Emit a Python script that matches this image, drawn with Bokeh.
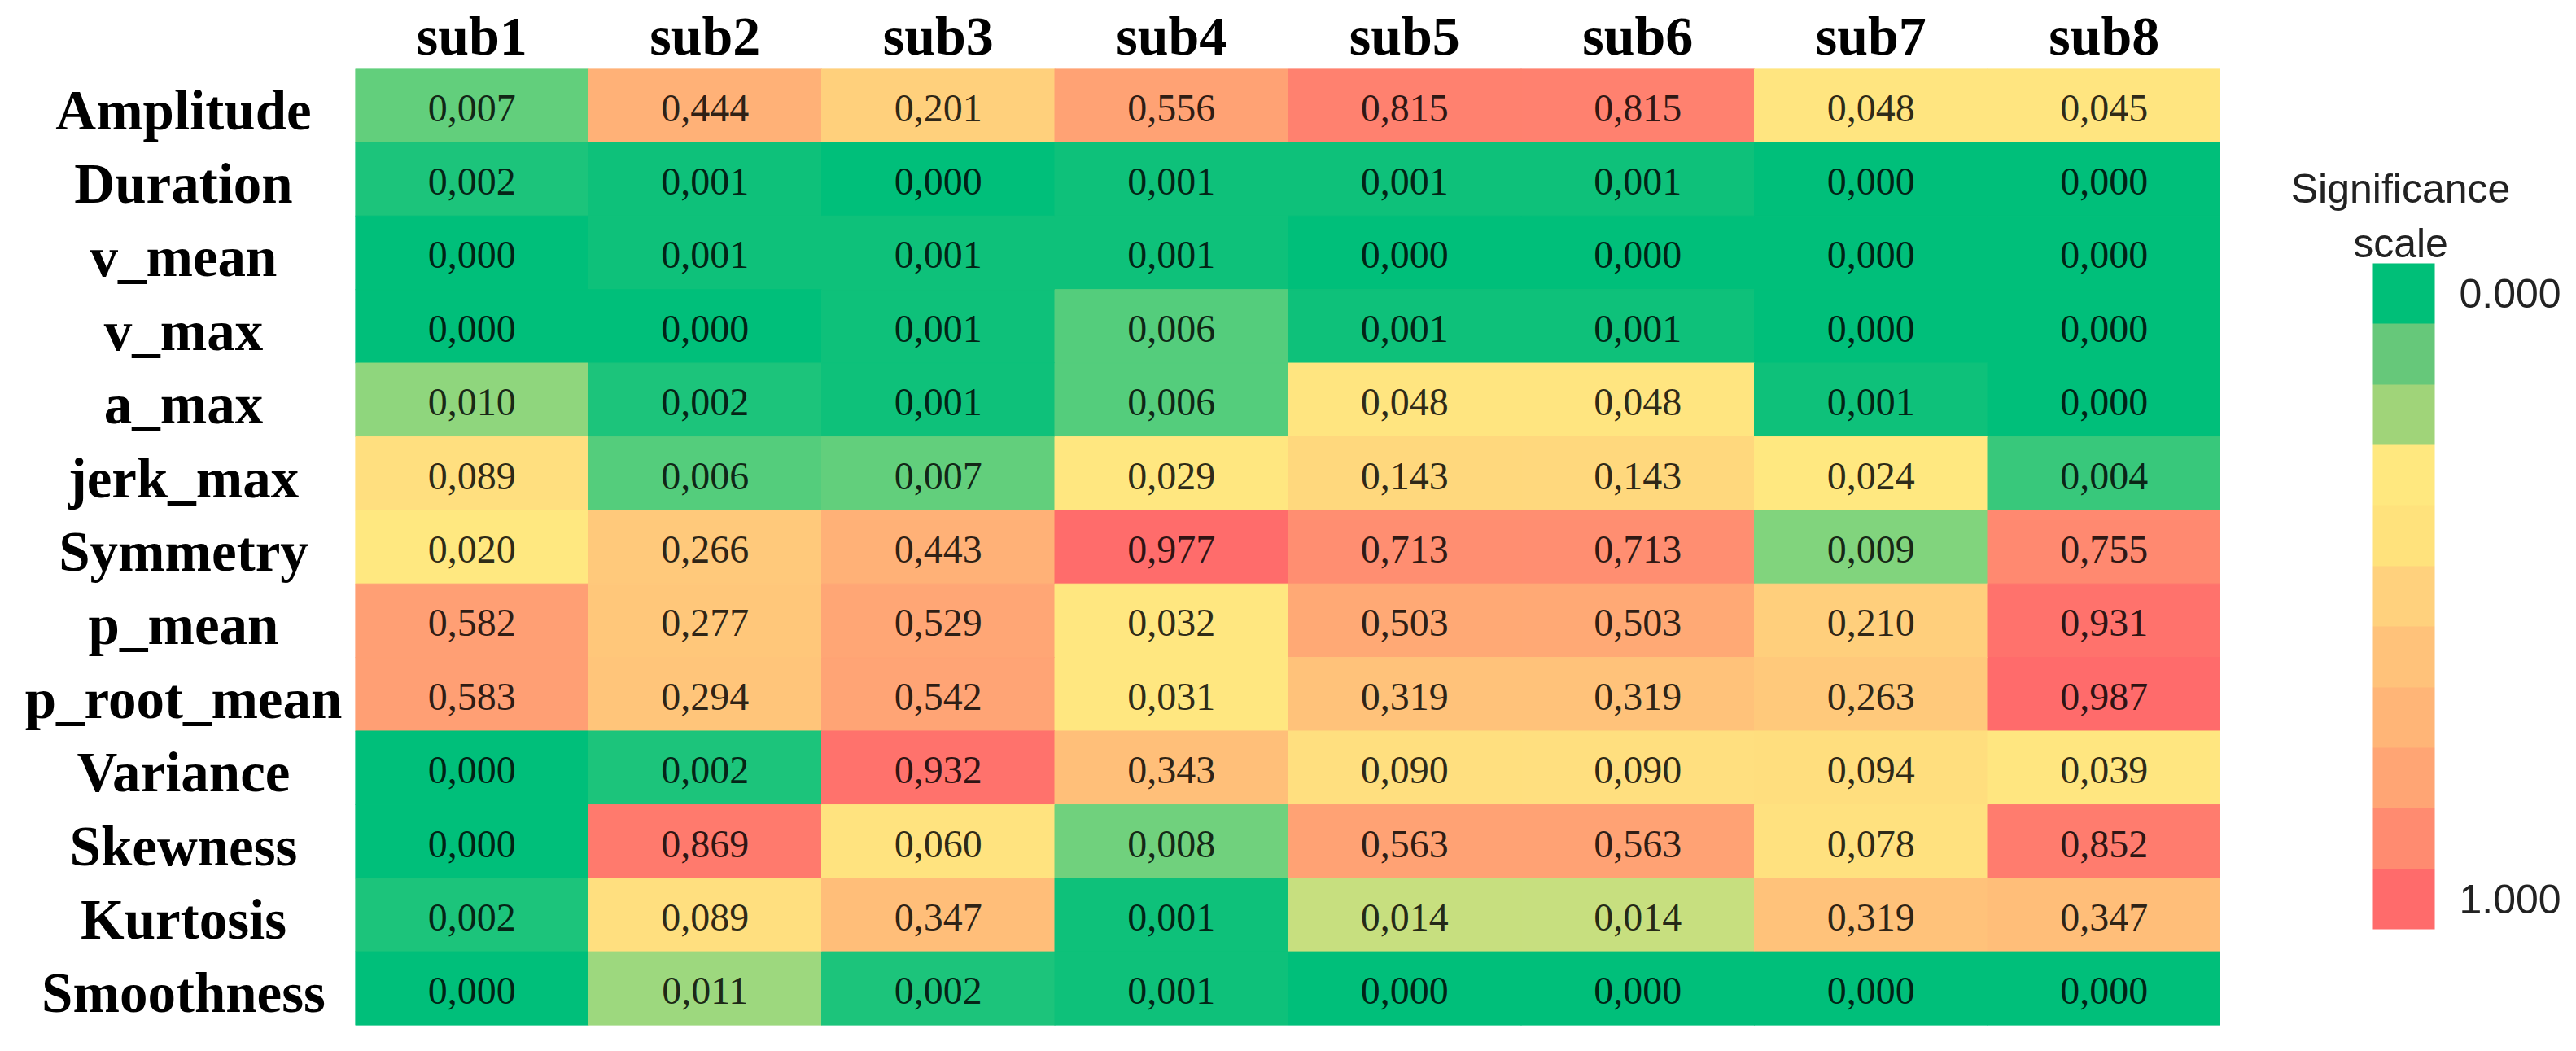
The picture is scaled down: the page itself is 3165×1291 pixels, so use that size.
import numpy as np
from bokeh.plotting import figure
from bokeh.models import (ColumnDataSource, FactorRange, Range1d, LinearColorMapper,
                          ColorBar, FixedTicker, AllLabels)
from bokeh.transform import transform
from bokeh.layouts import row
from bokeh.core.properties import value
from bokeh.embed import file_html
from bokeh.resources import INLINE

# ---------------- data ----------------
subjects = ["sub1", "sub2", "sub3", "sub4", "sub5", "sub6", "sub7", "sub8"]
features = ["Amplitude", "Duration", "v_mean", "v_max", "a_max", "jerk_max", "Symmetry",
            "p_mean", "p_root_mean", "Variance", "Skewness", "Kurtosis", "Smoothness"]

amplitude   = [0.007, 0.444, 0.201, 0.556, 0.815, 0.815, 0.048, 0.045]
duration    = [0.002, 0.001, 0.000, 0.001, 0.001, 0.001, 0.000, 0.000]
v_mean      = [0.000, 0.001, 0.001, 0.001, 0.000, 0.000, 0.000, 0.000]
v_max       = [0.000, 0.000, 0.001, 0.006, 0.001, 0.001, 0.000, 0.000]
a_max       = [0.010, 0.002, 0.001, 0.006, 0.048, 0.048, 0.001, 0.000]
jerk_max    = [0.089, 0.006, 0.007, 0.029, 0.143, 0.143, 0.024, 0.004]
symmetry    = [0.020, 0.266, 0.443, 0.977, 0.713, 0.713, 0.009, 0.755]
p_mean      = [0.582, 0.277, 0.529, 0.032, 0.503, 0.503, 0.210, 0.931]
p_root_mean = [0.583, 0.294, 0.542, 0.031, 0.319, 0.319, 0.263, 0.987]
variance    = [0.000, 0.002, 0.932, 0.343, 0.090, 0.090, 0.094, 0.039]
skewness    = [0.000, 0.869, 0.060, 0.008, 0.563, 0.563, 0.078, 0.852]
kurtosis    = [0.002, 0.089, 0.347, 0.001, 0.014, 0.014, 0.319, 0.347]
smoothness  = [0.000, 0.011, 0.002, 0.001, 0.000, 0.000, 0.000, 0.000]

feature_values = [amplitude, duration, v_mean, v_max, a_max, jerk_max, symmetry,
                  p_mean, p_root_mean, variance, skewness, kurtosis, smoothness]

# colour bar steps (top = 0.000 -> bottom = 1.000)
cbar_colors = ["#00BF78", "#66C87A", "#A0D479", "#FFE87F", "#FFE27C", "#FFD17D",
               "#FFC27A", "#FFB577", "#FFA574", "#FF8B70", "#FF6B6B"]
cbar_labels = ["0.000", "1.000"]

# ---------------- colour scale (3-colour scale: green - yellow - red) ----------------
c_low, c_mid, c_high = (0, 191, 122), (255, 232, 128), (255, 107, 107)
midpoint = 0.018


def interp(a, b, t):
    return "#%02x%02x%02x" % tuple(int(round(a[i] + (b[i] - a[i]) * t)) for i in range(3))


palette = [interp(c_low, c_mid, i / 127) for i in range(128)] + \
          [interp(c_mid, c_high, i / 127) for i in range(128)]

xs, ys, vals = [], [], []
for f, rowvals in zip(features, feature_values):
    for s, v in zip(subjects, rowvals):
        xs.append(s)
        ys.append(f)
        vals.append(v)
vals = np.array(vals)
vmax = vals.max()
score = np.where(vals <= midpoint, 0.5 * vals / midpoint,
                 0.5 + 0.5 * (vals - midpoint) / (vmax - midpoint))
labels = [("%.3f" % v).replace(".", ",") for v in vals]

src = ColumnDataSource(dict(x=xs, y=ys, v=vals, score=score, label=labels))
mapper = LinearColorMapper(palette=palette, low=0.0, high=1.0)

H = 1275
TOP, BOTTOM = 84, 16
FRAME_H = H - TOP - BOTTOM
LABEL_W = 436
MAIN_W = 2292
CB_W = 3149 - LABEL_W - MAIN_W

yr = FactorRange(factors=list(reversed(features)))

# ---------------- row-label figure ----------------
lab = figure(frame_width=LABEL_W, frame_height=FRAME_H, x_range=Range1d(0, LABEL_W), y_range=yr,
             output_backend="svg", toolbar_location=None,
             min_border_left=0, min_border_right=0, min_border_top=TOP, min_border_bottom=BOTTOM,
             x_axis_location=None, y_axis_location=None)
lab.grid.visible = False
lab.outline_line_color = None
lab_src = ColumnDataSource(dict(y=features, x=[225] * len(features)))
lab.text(x="x", y="y", text="y", source=lab_src, text_align="center", text_baseline="middle",
         text_font=value("Liberation Serif"), text_font_style="bold", text_font_size="69px",
         text_color="black", y_offset=6)

# ---------------- main heatmap ----------------
p = figure(frame_width=MAIN_W, frame_height=FRAME_H, x_range=FactorRange(factors=subjects), y_range=yr,
           output_backend="svg", toolbar_location=None, x_axis_location="above",
           y_axis_location=None,
           min_border_left=0, min_border_right=0, min_border_top=TOP, min_border_bottom=BOTTOM)
p.rect(x="x", y="y", width=1, height=1, source=src,
       fill_color=transform("score", mapper), line_color=transform("score", mapper), line_width=1)
p.text(x="x", y="y", text="label", source=src, text_align="center", text_baseline="middle",
       text_font=value("Liberation Serif"), text_font_size="48px", text_color="black",
       text_alpha=0.82, y_offset=3)
p.grid.visible = False
p.outline_line_color = None
ax = p.xaxis[0]
ax.axis_line_color = None
ax.major_tick_line_color = None
ax.minor_tick_line_color = None
ax.major_tick_out = 0
ax.major_label_standoff = 3
ax.major_label_text_font = "Liberation Serif"
ax.major_label_text_font_style = "bold"
ax.major_label_text_font_size = "68px"
ax.major_label_text_color = "black"

# ---------------- colour bar figure (same frame as heatmap) ----------------
cb = figure(frame_width=CB_W, frame_height=FRAME_H, x_range=Range1d(0, CB_W), y_range=Range1d(0, FRAME_H),
            output_backend="svg", toolbar_location=None,
            min_border_left=0, min_border_right=0, min_border_top=TOP, min_border_bottom=BOTTOM,
            x_axis_location=None, y_axis_location=None)
cb.grid.visible = False
cb.outline_line_color = None
title_src = ColumnDataSource(dict(x=[221, 221], y=[1028, 961], t=["Significance", "scale"]))
cb.text(x="x", y="y", text="t", source=title_src, text_align="center", text_baseline="alphabetic",
        text_font=value("Liberation Sans"), text_font_size="50px", text_color="#222222")

n = len(cbar_colors)
cb_mapper = LinearColorMapper(palette=list(reversed(cbar_colors)), low=0, high=n)
color_bar = ColorBar(color_mapper=cb_mapper, orientation="vertical", width=77, height=818,
                     location=(186, 118), padding=0, title=None,
                     ticker=FixedTicker(ticks=[0.5, n - 0.5]),
                     major_label_overrides={0.5: cbar_labels[1], n - 0.5: cbar_labels[0]},
                     major_label_policy=AllLabels(),
                     major_label_text_font="Liberation Sans", major_label_text_font_size="50px",
                     major_label_text_color="#222222",
                     major_tick_line_color=None, minor_tick_line_color=None,
                     bar_line_color=None, border_line_color=None, background_fill_color=None,
                     label_standoff=30)
cb.add_layout(color_bar)

layout = row(lab, p, cb)
open("out.html", "w").write(file_html(layout, INLINE))
